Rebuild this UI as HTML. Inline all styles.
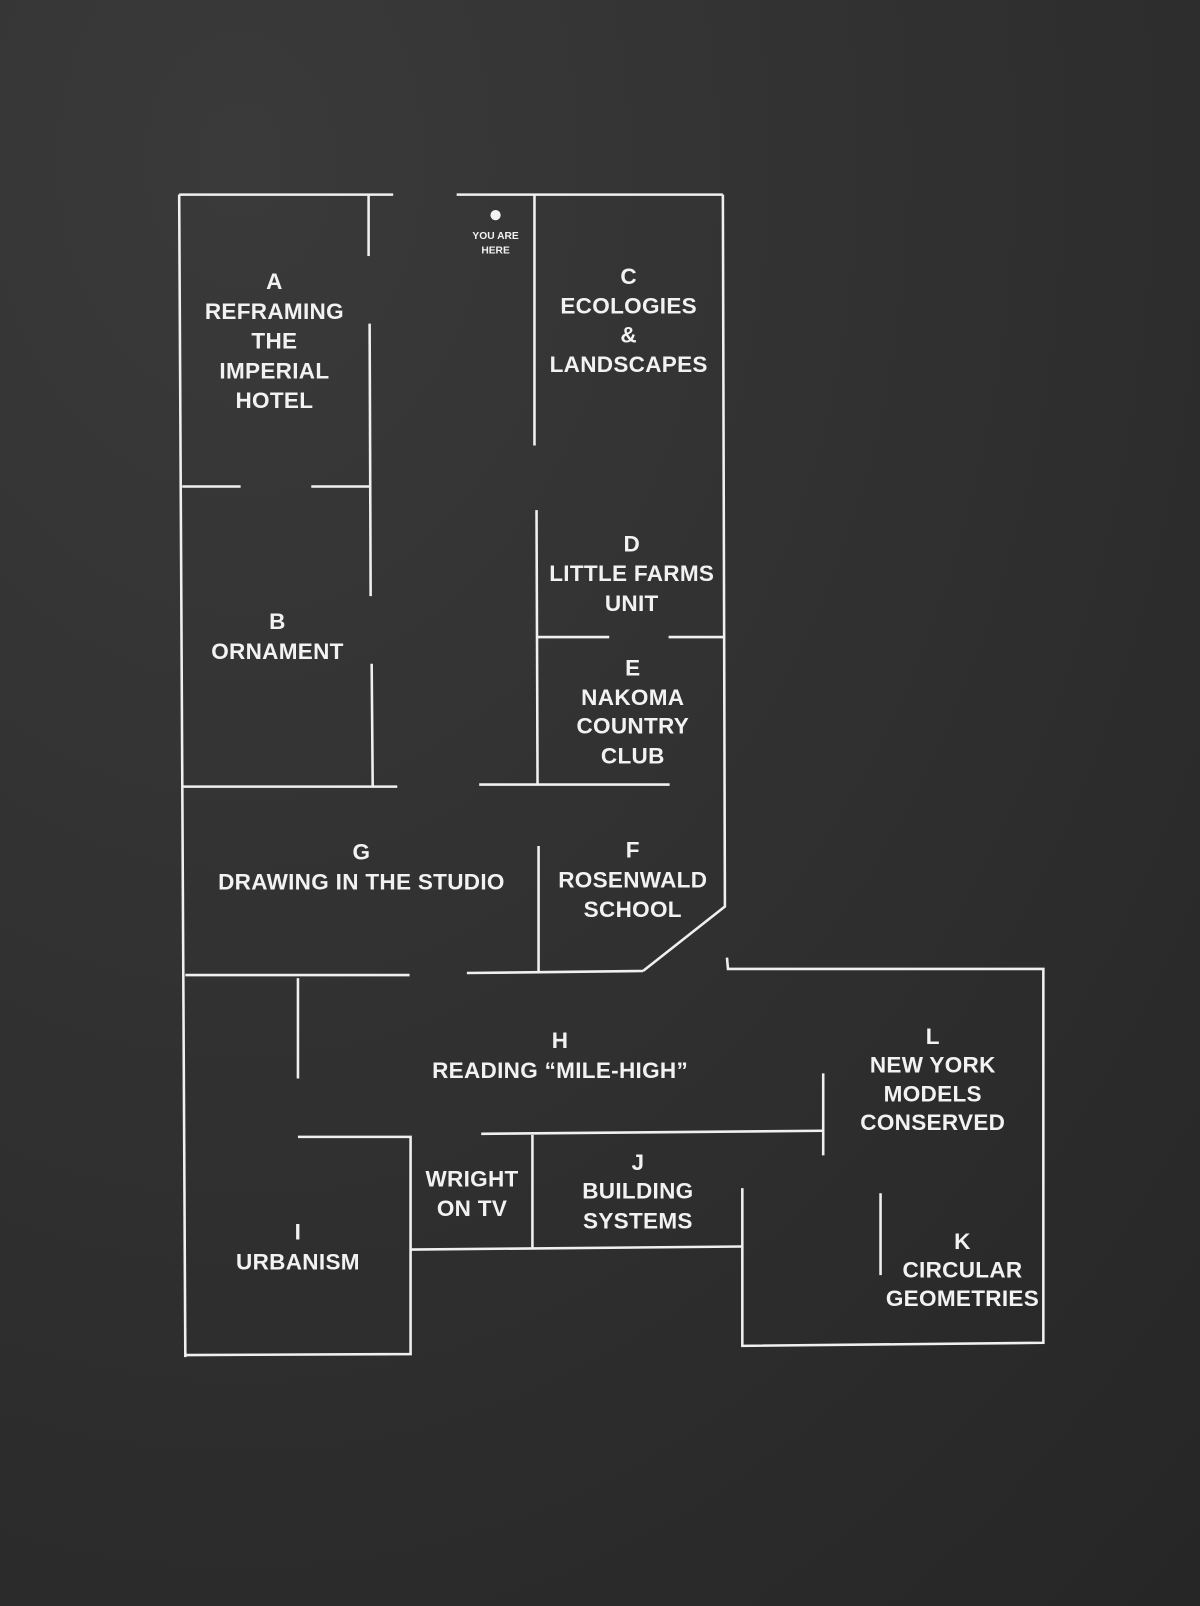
<!DOCTYPE html>
<html><head><meta charset="utf-8"><style>
html,body{margin:0;padding:0;width:1200px;height:1606px;overflow:hidden;background:#2b2b2b}
svg{display:block}
text{font-family:"Liberation Sans",sans-serif;font-weight:bold;fill:#f2f2f2;font-size:22px;text-anchor:middle;dominant-baseline:central;letter-spacing:0.3px}
</style></head><body>
<svg width="1200" height="1606" viewBox="0 0 1172 1568" preserveAspectRatio="none">
<defs><radialGradient id="bg" cx="0.2" cy="0.1" r="1.2"><stop offset="0" stop-color="#3a3a3a"/><stop offset="1" stop-color="#262626"/></radialGradient></defs>
<rect width="1172" height="1568" fill="url(#bg)"/>
<g stroke="#f0f0f0" stroke-width="2.5" fill="none">
<line x1="175" y1="190" x2="384" y2="190"/><line x1="446" y1="190" x2="706" y2="190"/>
<line x1="175" y1="190" x2="181" y2="1325"/>
<polyline points="706,190 708,885 628,948"/>
<line x1="360" y1="190" x2="360" y2="250"/><line x1="361" y1="316" x2="362" y2="582"/><line x1="363" y1="648" x2="364" y2="768"/>
<line x1="178" y1="475" x2="235" y2="475"/><line x1="304" y1="475" x2="361" y2="475"/>
<line x1="522" y1="190" x2="522" y2="435"/><line x1="524" y1="498" x2="525" y2="765"/>
<line x1="525" y1="622" x2="595" y2="622"/><line x1="653" y1="622" x2="708" y2="622"/>
<line x1="178" y1="768" x2="388" y2="768"/><line x1="468" y1="766" x2="654" y2="766"/>
<line x1="526" y1="826" x2="526" y2="948"/>
<line x1="181" y1="952" x2="400" y2="952"/><line x1="456" y1="950" x2="628" y2="948"/>
<polyline points="710,935 711,946 1019,946 1019,1311 725,1314 725,1160"/>
<line x1="291" y1="955" x2="291" y2="1053"/>
<polyline points="291,1110 401,1110 401,1322 181,1323"/>
<line x1="401" y1="1220" x2="725" y2="1217"/>
<line x1="520" y1="1108" x2="520" y2="1218"/>
<line x1="470" y1="1107" x2="804" y2="1104"/>
<line x1="804" y1="1048" x2="804" y2="1128"/>
<line x1="860" y1="1165" x2="860" y2="1245"/>
</g>
<circle cx="484" cy="210" r="5" fill="#f2f2f2"/>
<text x="484" y="231" style="font-size:10px;letter-spacing:0">YOU ARE</text>
<text x="484" y="245" style="font-size:10px;letter-spacing:0">HERE</text>
<text x="268" y="275">A</text><text x="268" y="304">REFRAMING</text><text x="268" y="333">THE</text><text x="268" y="362">IMPERIAL</text><text x="268" y="391">HOTEL</text>
<text x="271" y="607">B</text><text x="271" y="636">ORNAMENT</text>
<text x="614" y="270">C</text><text x="614" y="299">ECOLOGIES</text><text x="614" y="327">&amp;</text><text x="614" y="356">LANDSCAPES</text>
<text x="617" y="531">D</text><text x="617" y="560">LITTLE FARMS</text><text x="617" y="589">UNIT</text>
<text x="618" y="652">E</text><text x="618" y="681">NAKOMA</text><text x="618" y="709">COUNTRY</text><text x="618" y="738">CLUB</text>
<text x="353" y="832">G</text><text x="353" y="861">DRAWING IN THE STUDIO</text>
<text x="618" y="830">F</text><text x="618" y="859">ROSENWALD</text><text x="618" y="888">SCHOOL</text>
<text x="547" y="1016">H</text><text x="547" y="1045">READING “MILE-HIGH”</text>
<text x="911" y="1012">L</text><text x="911" y="1040">NEW YORK</text><text x="911" y="1068">MODELS</text><text x="911" y="1096">CONSERVED</text>
<text x="461" y="1151">WRIGHT</text><text x="461" y="1180">ON TV</text>
<text x="623" y="1135">J</text><text x="623" y="1163">BUILDING</text><text x="623" y="1192">SYSTEMS</text>
<text x="291" y="1203">I</text><text x="291" y="1232">URBANISM</text>
<text x="940" y="1212">K</text><text x="940" y="1240">CIRCULAR</text><text x="940" y="1268">GEOMETRIES</text>
</svg>
</body></html>
